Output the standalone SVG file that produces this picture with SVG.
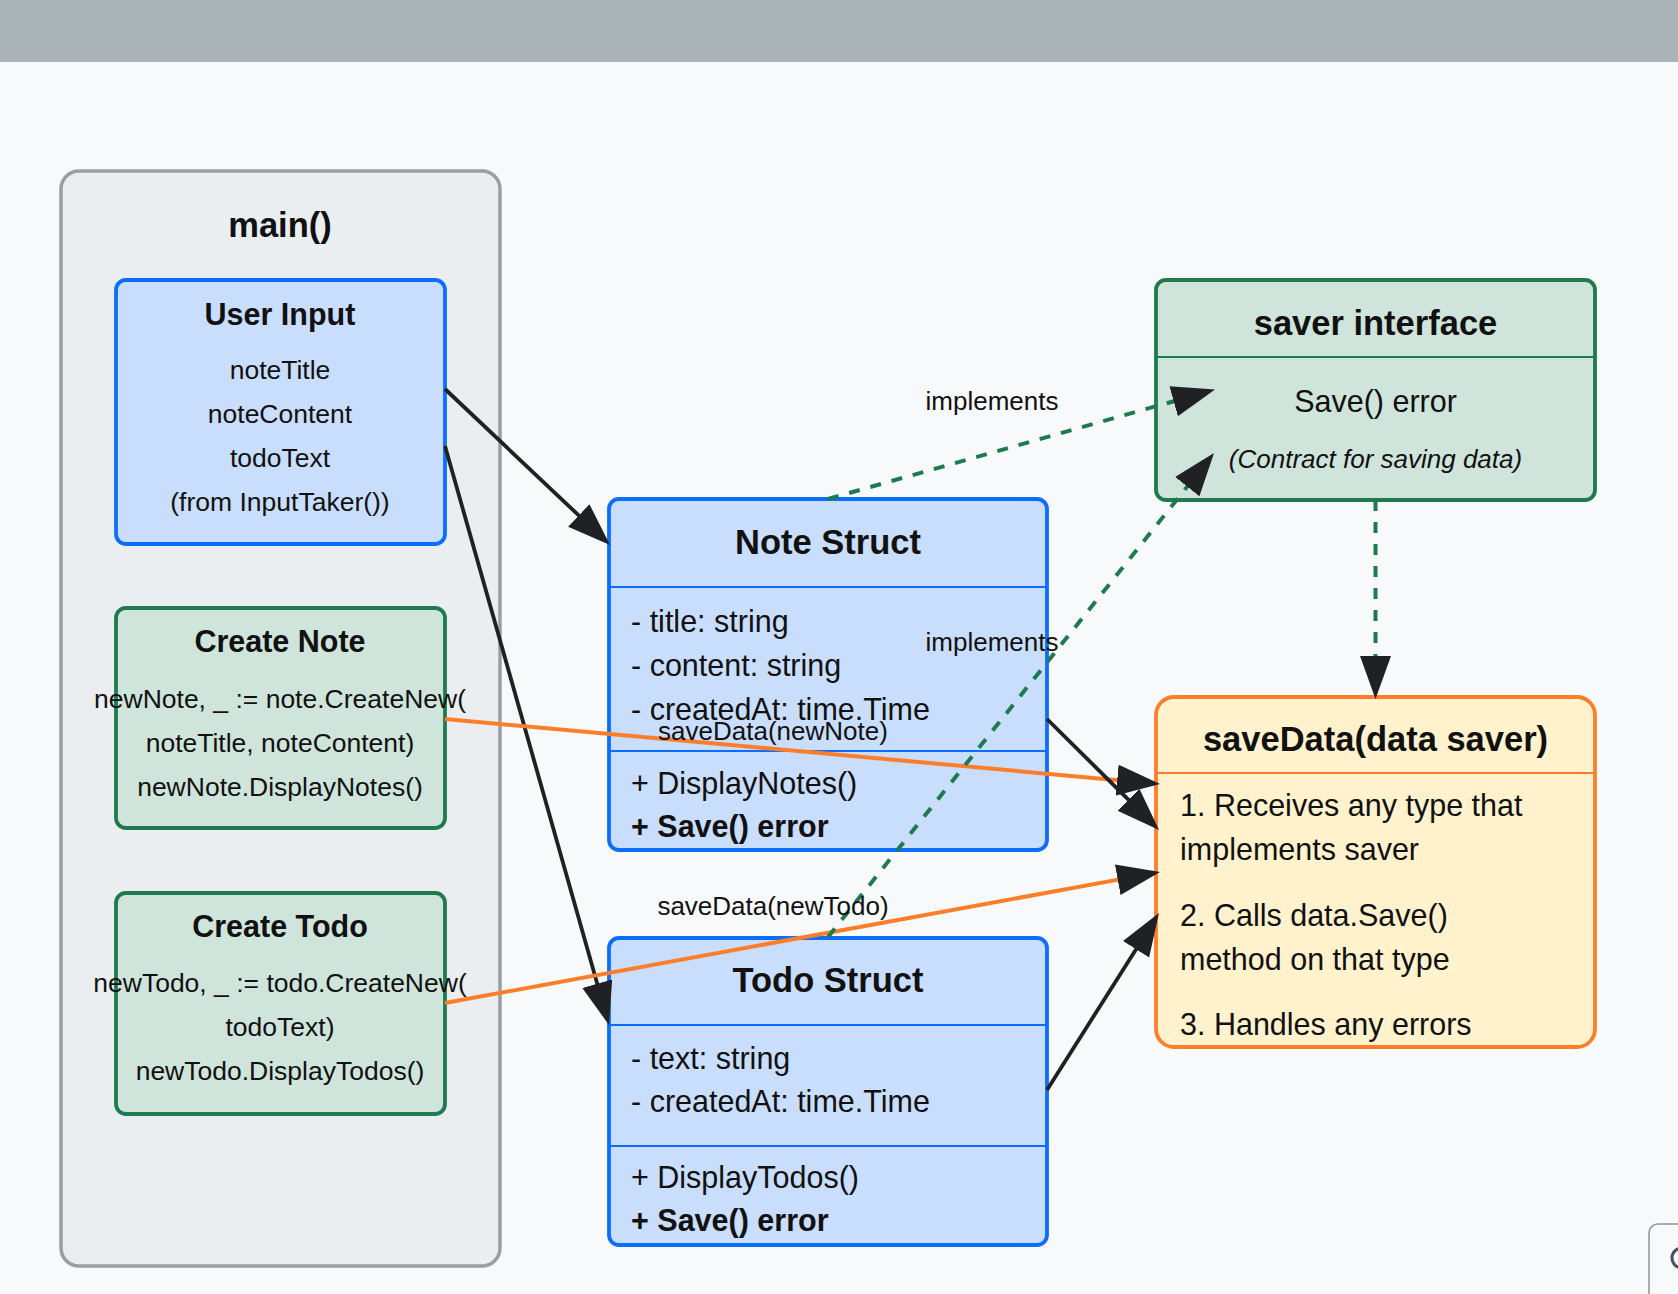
<svg xmlns="http://www.w3.org/2000/svg" width="1678" height="1294" viewBox="0 0 1678 1294">
<defs>
<marker id="arrow" markerUnits="userSpaceOnUse" markerWidth="44" markerHeight="32" refX="20" refY="15.5" orient="auto">
<path d="M0,0 L43,15.5 L0,31 Z" fill="#1f2124"/>
</marker>
<style>
text{font-family:"Liberation Sans",Arial,Helvetica,sans-serif;fill:#111}
.big{font-size:34.5px;font-weight:bold;text-anchor:middle}
.mid{font-size:30.5px;font-weight:bold;text-anchor:middle}
.body{font-size:30.5px}
.bodyb{font-size:30.5px;font-weight:bold}
.sm{font-size:26.5px;text-anchor:middle}
.lbl{font-size:26px;text-anchor:middle}
.blue{fill:#c9ddfc;stroke:#0d6efd;stroke-width:3.8}
.green{fill:#cfe4da;stroke:#1f7a4f;stroke-width:3.8}
.orange{fill:#fff2cc;stroke:#fd7e2a;stroke-width:3.8}
.dark{stroke:#1f2124;stroke-width:3.8;fill:none}
.or{stroke:#fd7e2a;stroke-width:4;fill:none}
.dash{stroke:#1f7a4f;stroke-width:4;fill:none;stroke-dasharray:11 11}
</style>
</defs>
<rect width="1678" height="1294" fill="#f8f9fa"/>
<rect width="1678" height="62" fill="#a9b3b8"/>

<g id="main">
<rect x="61" y="171" width="439" height="1095" rx="18" fill="#eaeef1" stroke="#9a9ea3" stroke-width="3.5"/>
<text class="big" x="280" y="237">main()</text>
</g>

<g id="user-input">
<rect class="blue" x="116" y="280" width="329" height="264" rx="10"/>
<text class="mid" x="280" y="325">User Input</text>
<text class="sm" x="280" y="379">noteTitle</text>
<text class="sm" x="280" y="423">noteContent</text>
<text class="sm" x="280" y="467">todoText</text>
<text class="sm" x="280" y="511">(from InputTaker())</text>
</g>

<g id="create-note">
<rect class="green" x="116" y="608" width="329" height="220" rx="10"/>
<text class="mid" x="280" y="652">Create Note</text>
<text class="sm" x="280" y="708">newNote, _ := note.CreateNew(</text>
<text class="sm" x="280" y="752">noteTitle, noteContent)</text>
<text class="sm" x="280" y="796">newNote.DisplayNotes()</text>
</g>

<g id="create-todo">
<rect class="green" x="116" y="893" width="329" height="221" rx="10"/>
<text class="mid" x="280" y="937">Create Todo</text>
<text class="sm" x="280" y="992">newTodo, _ := todo.CreateNew(</text>
<text class="sm" x="280" y="1036">todoText)</text>
<text class="sm" x="280" y="1080">newTodo.DisplayTodos()</text>
</g>

<g id="note-struct">
<rect class="blue" x="609" y="499" width="438" height="351" rx="10"/>
<line x1="609" y1="587" x2="1047" y2="587" stroke="#0d6efd" stroke-width="2"/>
<line x1="609" y1="751" x2="1047" y2="751" stroke="#0d6efd" stroke-width="2"/>
<text class="big" x="828" y="554">Note Struct</text>
<text class="body" x="631" y="632">- title: string</text>
<text class="body" x="631" y="676">- content: string</text>
<text class="body" x="631" y="720">- createdAt: time.Time</text>
<text class="body" x="631" y="794">+ DisplayNotes()</text>
<text class="bodyb" x="631" y="837">+ Save() error</text>
</g>

<g id="todo-struct">
<rect class="blue" x="609" y="938" width="438" height="307" rx="10"/>
<line x1="609" y1="1025" x2="1047" y2="1025" stroke="#0d6efd" stroke-width="2"/>
<line x1="609" y1="1146" x2="1047" y2="1146" stroke="#0d6efd" stroke-width="2"/>
<text class="big" x="828" y="992">Todo Struct</text>
<text class="body" x="631" y="1069">- text: string</text>
<text class="body" x="631" y="1112">- createdAt: time.Time</text>
<text class="body" x="631" y="1188">+ DisplayTodos()</text>
<text class="bodyb" x="631" y="1231">+ Save() error</text>
</g>

<g id="saver-interface">
<rect class="green" x="1156" y="280" width="439" height="220" rx="10"/>
<line x1="1156" y1="357" x2="1595" y2="357" stroke="#1f7a4f" stroke-width="2"/>
<text class="big" x="1375.5" y="335">saver interface</text>
<text class="body" x="1375.5" y="411.5" text-anchor="middle">Save() error</text>
<text class="lbl" x="1375.5" y="467.5" font-style="italic">(Contract for saving data)</text>
</g>

<g id="save-data">
<rect class="orange" x="1156" y="697" width="439" height="350" rx="18"/>
<line x1="1156" y1="773" x2="1595" y2="773" stroke="#fd7e2a" stroke-width="2"/>
<text class="big" x="1375.5" y="750.5">saveData(data saver)</text>
<text class="body" x="1180" y="816">1. Receives any type that</text>
<text class="body" x="1180" y="860">implements saver</text>
<text class="body" x="1180" y="926">2. Calls data.Save()</text>
<text class="body" x="1180" y="969.5">method on that type</text>
<text class="body" x="1180" y="1035">3. Handles any errors</text>
</g>

<g id="connectors">
<line class="dark" x1="445" y1="389" x2="593.3" y2="529.2" marker-end="url(#arrow)"/>
<line class="dark" x1="445" y1="446" x2="602.7" y2="1002.9" marker-end="url(#arrow)"/>
<line class="or" x1="445" y1="719" x2="1137.1" y2="781.9" marker-end="url(#arrow)"/>
<line class="or" x1="445" y1="1003" x2="1137.4" y2="876.1" marker-end="url(#arrow)"/>
<line class="dark" x1="1047" y1="719" x2="1142.7" y2="813.8" marker-end="url(#arrow)"/>
<line class="dark" x1="1047" y1="1090" x2="1146.7" y2="932.4" marker-end="url(#arrow)"/>
<line class="dash" x1="828" y1="499" x2="1192.9" y2="395.8" marker-end="url(#arrow)"/>
<line class="dash" x1="828" y1="937" x2="1199.7" y2="471" marker-end="url(#arrow)"/>
<line class="dash" x1="1375.5" y1="500" x2="1375.5" y2="676" marker-end="url(#arrow)"/>
<text class="lbl" x="992" y="410">implements</text>
<text class="lbl" x="992" y="651">implements</text>
<text class="lbl" x="773" y="740">saveData(newNote)</text>
<text class="lbl" x="773" y="915">saveData(newTodo)</text>
</g>

<g id="corner-control">
<rect x="1649" y="1224" width="60" height="90" rx="9" fill="#f8f9fa" stroke="#8e929c" stroke-width="1.5"/>
<circle cx="1682" cy="1258" r="10" fill="none" stroke="#4b5263" stroke-width="3"/>
</g>
</svg>
